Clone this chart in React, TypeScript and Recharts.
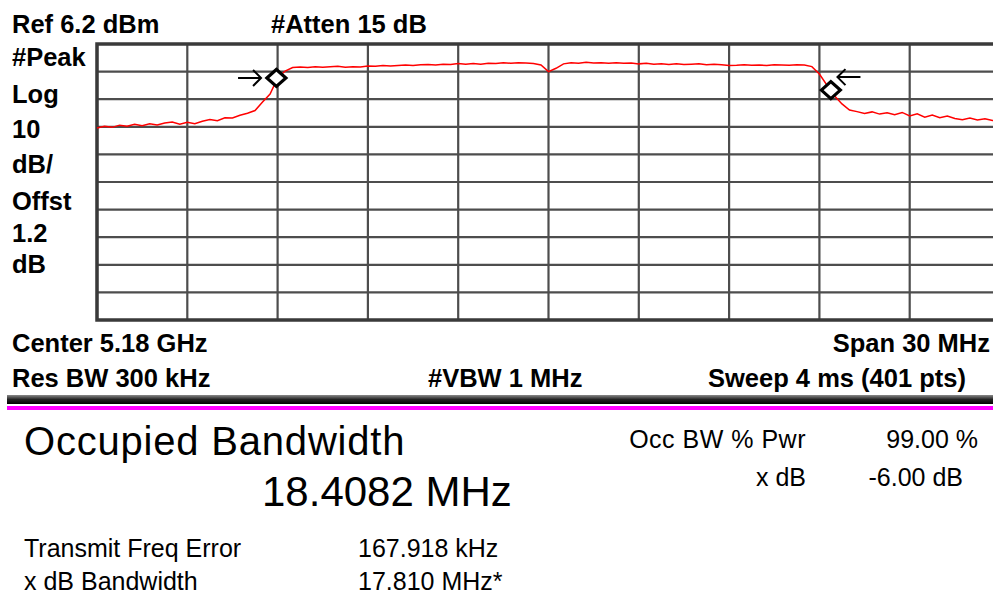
import { LineChart, Line, XAxis, YAxis, CartesianGrid, ReferenceDot, ReferenceArea } from "recharts";

// Spectrum analyser screen: occupied bandwidth measurement, 5.18 GHz centre, 30 MHz span.
const REF_LEVEL = 6.2; // dBm, top of the graticule
const DB_PER_DIV = 10;
const START_MHZ = 5165;
const STOP_MHZ = 5195;
const STEP_MHZ = 0.25;

// trace, one value per 0.25 MHz from 5165 to 5195 MHz
const traceDbm = [
  -24.2, -23.6, -24.0, -23.2, -23.6, -22.9, -23.4, -22.7, -23.1, -22.4,
  -22.1, -22.9, -22.2, -22.7, -21.8, -21.2, -21.6, -20.5, -20.6, -19.6,
  -18.9, -17.9, -14.8, -11.9, -6.1, -3.6, -2.3, -2.1, -2.3, -2.0,
  -2.2, -2.0, -1.9, -2.2, -2.0, -2.1, -1.8, -1.9, -1.6, -1.8,
  -1.6, -1.4, -1.6, -1.3, -1.2, -1.4, -1.1, -1.2, -0.9, -1.1,
  -0.9, -1.1, -0.8, -0.9, -0.6, -0.8, -0.6, -0.7, -0.9, -1.4,
  -3.8, -2.6, -1.0, -0.6, -0.8, -0.4, -0.7, -0.6, -0.8, -0.6,
  -0.8, -0.7, -1.0, -0.8, -1.1, -1.0, -1.2, -1.0, -1.2, -1.1,
  -1.0, -1.3, -1.1, -1.3, -1.6, -1.5, -1.3, -1.5, -1.4, -1.6,
  -1.3, -1.4, -1.5, -1.3, -1.4, -2.0, -4.7, -8.7, -12.6, -15.5,
  -17.7, -18.3, -19.0, -18.4, -19.2, -18.7, -19.4, -18.6, -19.9, -19.1,
  -20.3, -19.5, -20.5, -19.9, -20.8, -21.2, -20.6, -21.3, -20.9, -21.5,
  -21.3,
];

const gridFreqs = [5168, 5171, 5174, 5177, 5180, 5183, 5186, 5189, 5192];
const gridLevels = [-3.8, -13.8, -23.8, -33.8, -43.8, -53.8, -63.8, -73.8, -83.8];

// occupied-bandwidth markers (diamonds) and x dB arrows
const obwMarkers = [
  { f: 5170.96, dbm: -6.1 },
  { f: 5189.38, dbm: -10.5 },
];
const xdbArrows = [
  { f: 5170.45, dbm: -6.1, dir: "right" },
  { f: 5189.6, dbm: -5.8, dir: "left" },
];

const topLeftLabels = ["#Peak", "Log", "10", "dB/", "Offst", "1.2", "dB"];
const topLeftBaselines = [66, 103, 138, 173, 210, 242, 273];

const data = traceDbm.map((v, i) => ({ f: START_MHZ + i * STEP_MHZ, v }));
const bottomLevel = REF_LEVEL - DB_PER_DIV * 10;

const Diamond = (props: any) => {
  const { cx, cy } = props;
  if (cx == null || cy == null) return null;
  return (
    <path
      d={`M${cx - 9.5},${cy} L${cx},${cy - 8.5} L${cx + 9.5},${cy} L${cx},${cy + 8.5} Z`}
      fill="#fff"
      stroke="#000"
      strokeWidth={3.2}
    />
  );
};

const Arrow = (dir: string) => (props: any) => {
  const { cx, cy } = props;
  if (cx == null || cy == null) return null;
  const s = dir === "right" ? -1 : 1;
  return (
    <path
      d={`M${cx + s * 23},${cy} L${cx},${cy} M${cx + s * 8},${cy - 8} L${cx},${cy} L${cx + s * 8},${cy + 8}`}
      fill="none"
      stroke="#000"
      strokeWidth={2}
    />
  );
};

const boldText = { fontFamily: "'Liberation Sans', Arial, sans-serif", fontWeight: 700, fontSize: 25.5, fill: "#000" };
const plainText = { fontFamily: "'Liberation Sans', Arial, sans-serif", fontWeight: 400, fill: "#000" };

export default function App() {
  return (
    <div style={{ position: "fixed", left: 0, top: 0, width: 993, height: 596, overflow: "hidden", background: "#fff" }}>
      <div style={{ position: "absolute", left: 0, top: 0 }}>
        <LineChart width={1010} height={330} data={data} margin={{ top: 44, left: 97, right: 10, bottom: 10 }}>
          <XAxis dataKey="f" type="number" domain={[START_MHZ, STOP_MHZ]} ticks={gridFreqs} hide />
          <YAxis type="number" domain={[bottomLevel, REF_LEVEL]} ticks={gridLevels} hide />
          <CartesianGrid stroke="#4d4d4d" strokeWidth={2.2} />
          <ReferenceArea
            x1={START_MHZ}
            x2={STOP_MHZ}
            y1={bottomLevel}
            y2={REF_LEVEL}
            fill="none"
            fillOpacity={0}
            stroke="#3a3a3a"
            strokeWidth={3.5}
            ifOverflow="visible"
          />
          <Line dataKey="v" stroke="#ff0000" strokeWidth={1.5} dot={false} isAnimationActive={false} />
          {obwMarkers.map((m, i) => (
            <ReferenceDot key={`m${i}`} x={m.f} y={m.dbm} shape={Diamond} ifOverflow="visible" />
          ))}
          {xdbArrows.map((a, i) => (
            <ReferenceDot key={`a${i}`} x={a.f} y={a.dbm} shape={Arrow(a.dir)} ifOverflow="visible" />
          ))}
        </LineChart>
      </div>
      <svg width={993} height={596} style={{ position: "absolute", left: 0, top: 0, pointerEvents: "none" }}>
        <defs>
          <linearGradient id="barGrad" x1="0" y1="0" x2="0" y2="1">
            <stop offset="0" stopColor="#8a8a8a" />
            <stop offset="0.5" stopColor="#222" />
            <stop offset="1" stopColor="#000" />
          </linearGradient>
        </defs>
        <text x={12} y={33} {...boldText}>Ref 6.2 dBm</text>
        <text x={271} y={33} {...boldText}>#Atten 15 dB</text>
        {topLeftLabels.map((t, i) => (
          <text key={t + i} x={12} y={topLeftBaselines[i]} {...boldText}>{t}</text>
        ))}
        <text x={12} y={352} {...boldText}>Center 5.18 GHz</text>
        <text x={990} y={352} textAnchor="end" {...boldText}>Span 30 MHz</text>
        <text x={12} y={387} {...boldText}>Res BW 300 kHz</text>
        <text x={428} y={387} {...boldText}>#VBW 1 MHz</text>
        <text x={708} y={387} {...boldText}>Sweep 4 ms (401 pts)</text>

        <rect x={7} y={395} width={986} height={9} fill="url(#barGrad)" />
        <rect x={7} y={406} width={986} height={4} fill="#ff00ff" />

        <text x={24} y={455} fontSize={40} letterSpacing={0.8} {...plainText}>Occupied Bandwidth</text>
        <text x={262} y={506} fontSize={42} {...plainText}>18.4082 MHz</text>
        <text x={806} y={448} fontSize={25} textAnchor="end" letterSpacing={0.5} {...plainText}>Occ BW % Pwr</text>
        <text x={978} y={448} fontSize={25} textAnchor="end" {...plainText}>99.00 %</text>
        <text x={806} y={486} fontSize={25} textAnchor="end" {...plainText}>x dB</text>
        <text x={963} y={486} fontSize={25} textAnchor="end" {...plainText}>-6.00 dB</text>
        <text x={24} y={557} fontSize={25} {...plainText}>Transmit Freq Error</text>
        <text x={358} y={557} fontSize={25} {...plainText}>167.918 kHz</text>
        <text x={24} y={590} fontSize={25} {...plainText}>x dB Bandwidth</text>
        <text x={358} y={590} fontSize={25} {...plainText}>17.810 MHz*</text>
      </svg>
    </div>
  );
}
